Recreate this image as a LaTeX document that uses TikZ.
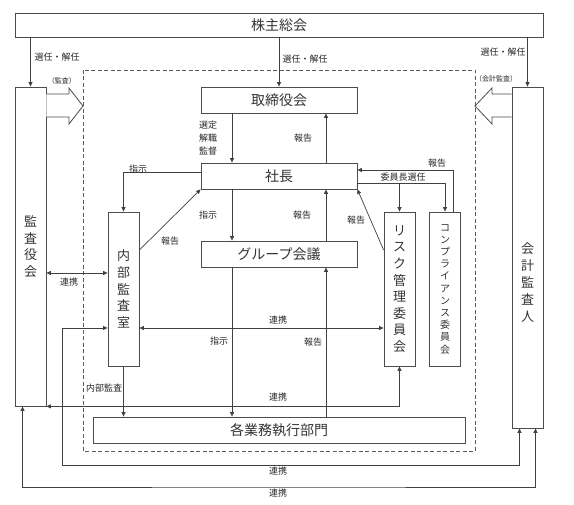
\documentclass[tikz,border=0pt]{standalone}
\usepackage{fontspec}
\setmainfont{Noto Sans CJK JP}
\usetikzlibrary{arrows.meta}
\tikzset{
  box/.style={draw=black!70, line width=0.8pt, inner sep=0pt, text=black!80,
    font=\fontsize{14}{16}\selectfont},
  vbox/.style={box, minimum width=31pt, minimum height=154pt, align=center,
    font=\fontsize{13}{16.6}\selectfont},
  lbl/.style={inner sep=0pt, text=black!85, font=\fontsize{9}{13}\selectfont},
  small lbl/.style={lbl, font=\fontsize{7}{8}\selectfont},
  conn/.style={draw=black!75, line width=0.7pt, -{Triangle[length=4.5pt,width=4pt]}},
  twoway/.style={conn, {Triangle[length=4.5pt,width=4pt]}-{Triangle[length=4.5pt,width=4pt]}},
  dbox/.style={draw=black!65, line width=0.8pt, dash pattern=on 4pt off 2.5pt},
  hollow/.style={draw=black!70, line width=0.8pt, fill=white},
}

\begin{document}
\begin{tikzpicture}[x=1pt, y=-1pt]
\useasboundingbox (0,0) rectangle (574,505);
\draw[dbox] (83,70) rectangle (475,451);

\node[box, minimum width=528pt, minimum height=24pt] (kabunushi) at (279,25) {株主総会};
\node[vbox, minimum height=319pt] (kansayaku) at (30.5,246.5) {監\\査\\役\\会};
\node[box, minimum width=31pt, minimum height=341pt,
  label={[yshift=-25.5pt, align=center, text=black!80, font=\fontsize{13}{17}\selectfont]center:会\\計\\監\\査\\人}]
  (kaikei) at (527.5,257.5) {};
\node[box, minimum width=156pt, minimum height=26pt] (torishimari) at (279,100) {取締役会};
\node[box, minimum width=156pt, minimum height=26pt] (shacho) at (279,176) {社長};
\node[box, minimum width=156pt, minimum height=26pt] (group) at (279,254) {グループ会議};
\node[vbox] (naibu) at (123.5,289) {内\\部\\監\\査\\室};
\node[vbox] (risk) at (399.5,289) {リ\\ス\\ク\\管\\理\\委\\員\\会};
\node[vbox, font=\fontsize{10}{12.2}\selectfont] (comp) at (445,289)
  {コ\\ン\\プ\\ラ\\イ\\ア\\ン\\ス\\委\\員\\会};
\node[box, minimum width=372pt, minimum height=26pt] (kakugyomu) at (279,430) {各業務執行部門};

% audit arrows
\draw[hollow] (kansayaku.east |- 0,94) -- (69,94) -- (69,88) -- (83,106) -- (69,124) -- (69,117) -- (kansayaku.east |- 0,117);
\draw[hollow] (kaikei.west |- 0,94) -- (492,94) -- (492,88) -- (475,106) -- (492,124) -- (492,117) -- (kaikei.west |- 0,117);

\draw[conn] (kabunushi.south -| kansayaku.north) -- (kansayaku.north);
\draw[conn] (kabunushi.south -| torishimari.north) -- (torishimari.north);
\draw[conn] (kabunushi.south -| kaikei.north) -- (kaikei.north);

\draw[conn] ([xshift=-47pt]torishimari.south) -- ([xshift=-47pt]shacho.north);
\draw[conn] ([xshift=47pt]shacho.north) -- ([xshift=47pt]torishimari.south);
\draw[conn] ([yshift=4pt]shacho.west) -| (naibu.north);
\draw[conn] ([yshift=39pt]naibu.east) -- (shacho.south west);
\draw[conn] ([xshift=-47pt]shacho.south) -- ([xshift=-47pt]group.north);
\draw[conn] ([xshift=47pt]group.north) -- ([xshift=47pt]shacho.south);
\draw[conn] ([yshift=39pt]risk.west) -- (shacho.south east);
\draw[conn] ([yshift=-7pt]shacho.east) -| (comp.north);
\draw[conn] (risk.north |- 0,183) -- (risk.north);
\draw[conn] ([xshift=8pt]comp.north) |- ([yshift=6pt]shacho.east);
\draw[conn] ([xshift=-47pt]group.south) -- ([xshift=-47pt]kakugyomu.north);
\draw[conn] ([xshift=47pt]kakugyomu.north) -- ([xshift=47pt]group.south);
\draw[conn] (naibu.south) -- (naibu.south |- kakugyomu.north);

% cooperation
\draw[twoway] (kansayaku.east |- 0,273) -- (naibu.west |- 0,273);
\draw[twoway] (naibu.east |- 0,328) -- (risk.west |- 0,328);
\draw[twoway] (naibu.west |- 0,328) -| (62,465) -| ([xshift=-8pt]kaikei.south);
\draw[twoway] (risk.south) |- (kansayaku.south east);
\draw[twoway] ([xshift=-8pt]kansayaku.south) |- (279,487) -| ([xshift=8pt]kaikei.south);

\node[lbl] (sen1) at (57,57) {選任・解任};
\node[lbl] (sen2) at (305,59) {選任・解任};
\node[lbl] (sen3) at (503,52) {選任・解任};
\node[small lbl] (kansa) at (62,81) {（監査）};
\node[small lbl] (kaikeikansa) at (496,79) {（会計監査）};
\node[lbl, align=center] (sentei) at (208,138) {選定\\解職\\監督};
\node[lbl] (hok1) at (303,138) {報告};
\node[lbl] (shiji1) at (138,169) {指示};
\node[lbl] (hok2) at (170,241) {報告};
\node[lbl] (shiji2) at (208,215) {指示};
\node[lbl] (hok3) at (302,215) {報告};
\node[lbl] (hok4) at (356,220) {報告};
\node[lbl] (iincho) at (403,177) {委員長選任};
\node[lbl] (hok5) at (437,163) {報告};
\node[lbl] (ren1) at (69,282) {連携};
\node[lbl] (ren2) at (278,320) {連携};
\node[lbl] (shiji3) at (219,341) {指示};
\node[lbl] (hok6) at (313,342) {報告};
\node[lbl] (naibukansa) at (104,388) {内部監査};
\node[lbl] (ren3) at (278,397) {連携};
\node[lbl] (ren4) at (278,471) {連携};
\node[lbl] (ren5) at (278,493) {連携};
\end{tikzpicture}
\end{document}
